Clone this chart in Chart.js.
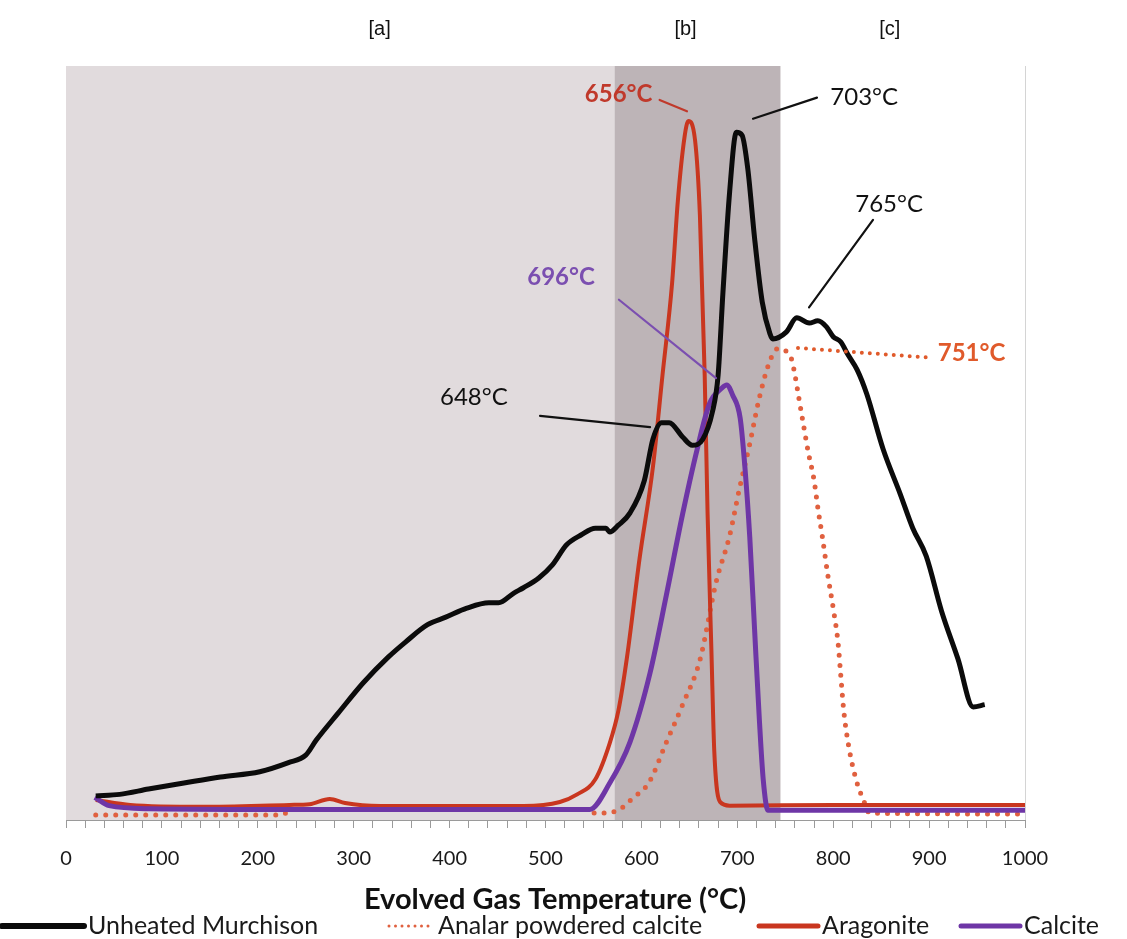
<!DOCTYPE html>
<html>
<head>
<meta charset="utf-8">
<script src="https://cdn.jsdelivr.net/npm/chart.js@4.4.0/dist/chart.umd.min.js"></script>
<style>
  html, body { margin: 0; padding: 0; background: #fff; }
  #wrap { width: 1127px; height: 939px; }
</style>
</head>
<body>
<div id="wrap"><canvas id="grafico" width="1127" height="939"></canvas></div>
<script>
/* Evolved gas (CO2) profiles vs temperature,
   signal in arbitrary units (0-100 = plot height). */

const murchisonTemp = [31, 56, 86, 123, 161, 202, 232, 250, 261, 284, 310, 336, 354, 377, 396, 418, 441, 451, 467, 477,
  493, 507, 522, 537, 552, 563, 567, 576, 588, 603, 612, 621, 629, 643, 653, 664, 674, 680, 685, 692,
  699, 705, 711, 718, 726, 734, 737, 751, 762, 775, 784, 793, 800, 808, 815, 825, 835, 852, 870, 883,
  897, 913, 930, 946, 958];
const murchisonSignal = [3.2, 3.4, 4.1, 4.9, 5.7, 6.4, 7.6, 8.6, 10.6, 14.2, 18.2, 21.6, 23.6, 25.9, 26.9, 28.1, 28.8, 28.8, 30.1, 30.8,
  32.1, 33.8, 36.5, 37.8, 38.7, 38.7, 38.2, 39.1, 40.7, 45.0, 50.5, 52.7, 52.7, 50.8, 49.7, 50.5, 54.1, 59.0, 69.9, 83.3,
  91.2, 90.8, 86.3, 77.2, 68.7, 64.5, 63.8, 64.7, 66.6, 65.9, 66.2, 65.4, 64.1, 63.4, 61.8, 59.7, 56.5, 49.2, 43.2, 38.7,
  35.0, 27.7, 21.4, 15.0, 15.3];

const analarTemp = [31, 222, 240, 540, 553, 574, 591, 608, 626, 643, 661, 678, 692, 702, 713, 723, 734, 742, 756, 761,
  764, 769, 774, 780, 784, 789, 794, 800, 805, 808, 811, 816, 824, 832, 838, 1000];
const analarSignal = [0.65, 0.65, 1.4, 1.4, 0.9, 1.2, 2.9, 5.0, 10.3, 15.3, 21.2, 31.6, 37.7, 43.8, 49.9, 56.0, 60.9, 62.5, 61.3, 58.4,
  56.1, 52.4, 48.8, 45.1, 41.4, 37.3, 32.8, 28.1, 23.6, 19.0, 14.5, 9.9, 5.3, 2.5, 0.9, 0.8];

const aragoniteTemp = [31, 67, 142, 233, 254, 275, 291, 328, 477, 515, 533, 552, 567, 576, 585, 598, 612, 622, 632, 638,
  645, 649, 656, 661, 666, 669, 673, 676, 682, 692, 800, 1000];
const aragoniteSignal = [2.65, 2.0, 1.75, 2.0, 2.1, 2.8, 2.25, 1.86, 1.86, 2.39, 3.4, 5.4, 10.2, 14.5, 21.6, 34.6, 46.8, 59.0, 71.2, 82.1,
  90.6, 92.7, 90.1, 80.2, 59.0, 40.7, 22.5, 9.1, 2.4, 1.9, 2.0, 2.0];

const calciteTemp = [30, 45, 87, 243, 546, 567, 588, 609, 626, 643, 658, 671, 684, 689, 695, 703, 708, 713, 718, 723,
  727, 732, 1000];
const calciteSignal = [3.0, 1.9, 1.5, 1.4, 1.4, 4.9, 10.3, 19.5, 29.8, 40.6, 49.1, 55.2, 57.3, 57.7, 56.4, 53.3, 46.7, 37.5, 25.3, 13.3,
  5.4, 1.3, 1.3];

// temperature zones [a] [b] [c]
const zoneLabels = ["[a]", "[b]", "[c]"];
const zoneLabelTemp = [327, 646, 859];
const zoneStart = [0, 572];
const zoneEnd = [572, 745];
const zoneColors = ["#e1dbdd", "#bdb4b7"];

// peak annotations (data units)
const peakLabels = ["656°C", "703°C", "765°C", "751°C", "696°C", "648°C"];

const FONT = "Lato, 'Open Sans', sans-serif";
const C_BLACK = "#0b0b0b";
const C_RED = "#c9361f";
const C_DOT = "#e0603f";
const C_PURPLE = "#6e36a6";

function pares(xs, ys) { return xs.map((x, i) => ({ x: x, y: ys[i] })); }

const anotaciones = [
  { text: peakLabels[0], tx: 541, ty: 96.2, line: [619, 95.5, 647.5, 94.0], color: "#c0392b", bold: true },
  { text: peakLabels[1], tx: 797, ty: 95.8, line: [716.4, 93.0, 783.1, 95.8], color: "#111", bold: false },
  { text: peakLabels[2], tx: 823, ty: 81.6, line: [774.8, 68.0, 841.5, 79.6], color: "#111", bold: false },
  { text: peakLabels[3], tx: 909, ty: 61.9, line: [763.3, 62.6, 903, 61.3], color: "#e05a2b", bold: true, dotted: true },
  { text: peakLabels[4], tx: 481, ty: 72.0, line: [576.6, 69.0, 677.8, 58.6], color: "#7b4fb0", bold: true },
  { text: peakLabels[5], tx: 390, ty: 56.1, line: [494.3, 53.6, 609, 52.1], color: "#111", bold: false }
];

const pluginZonas = {
  id: "zonas",
  beforeDatasetsDraw(chart) {
    const { ctx, chartArea: a, scales: { x } } = chart;
    ctx.save();
    zoneStart.forEach((s, i) => {
      const x0 = x.getPixelForValue(s), x1 = x.getPixelForValue(zoneEnd[i]);
      ctx.fillStyle = zoneColors[i];
      ctx.fillRect(x0, a.top, x1 - x0, a.bottom - a.top);
    });
    ctx.strokeStyle = "#d4d4d4";
    ctx.lineWidth = 1;
    ctx.beginPath();
    ctx.moveTo(a.right + 0.5, a.top);
    ctx.lineTo(a.right + 0.5, a.bottom);
    ctx.stroke();
    ctx.restore();
  },
  afterDatasetsDraw(chart) {
    const { ctx, scales: { x, y } } = chart;
    ctx.save();
    ctx.textBaseline = "middle";
    anotaciones.forEach(an => {
      const [t0, v0, t1, v1] = an.line;
      ctx.strokeStyle = an.color;
      ctx.lineWidth = 2.2;
      ctx.lineCap = "round";
      ctx.setLineDash(an.dotted ? [0, 8] : []);
      if (an.dotted) ctx.lineWidth = 4;
      ctx.beginPath();
      ctx.moveTo(x.getPixelForValue(t0), y.getPixelForValue(v0));
      ctx.lineTo(x.getPixelForValue(t1), y.getPixelForValue(v1));
      ctx.stroke();
      ctx.setLineDash([]);
      ctx.fillStyle = an.color;
      ctx.font = (an.bold ? "bold " : "") + "24px " + FONT;
      ctx.textAlign = "left";
      ctx.fillText(an.text, x.getPixelForValue(an.tx), y.getPixelForValue(an.ty));
    });
    ctx.restore();
  },
  afterDraw(chart) {
    const { ctx, scales: { x } } = chart;
    ctx.save();
    // zone labels
    ctx.fillStyle = "#111";
    ctx.font = "20px 'Liberation Sans', Arial, sans-serif";
    ctx.textAlign = "center";
    ctx.textBaseline = "middle";
    zoneLabels.forEach((t, i) => ctx.fillText(t, x.getPixelForValue(zoneLabelTemp[i]), 29));

    // axis title
    ctx.font = "bold 29px " + FONT;
    ctx.fillText("Evolved Gas Temperature (°C)", 555, 900);

    // legend
    const yL = 926;
    ctx.textAlign = "left";
    ctx.font = "25px " + FONT;
    ctx.lineCap = "round";
    const items = [
      { label: "Unheated Murchison", x0: 2, x1: 84, color: C_BLACK, w: 6 },
      { label: "Analar powdered calcite", x0: 389, x1: 430, color: C_DOT, w: 3, dot: true },
      { label: "Aragonite", x0: 759, x1: 818, color: C_RED, w: 5 },
      { label: "Calcite", x0: 961, x1: 1020, color: C_PURPLE, w: 5 }
    ];
    items.forEach(it => {
      ctx.strokeStyle = it.color;
      ctx.lineWidth = it.w;
      ctx.setLineDash(it.dot ? [0, 6.5] : []);
      ctx.beginPath();
      ctx.moveTo(it.x0, yL);
      ctx.lineTo(it.x1, yL);
      ctx.stroke();
      ctx.setLineDash([]);
      ctx.fillStyle = "#1a1a1a";
      ctx.fillText(it.label, it.x1 + (it.dot ? 8 : 4), yL);
    });
    ctx.restore();
  }
};

const ctx = document.getElementById("grafico").getContext("2d");
new Chart(ctx, {
  type: "line",
  data: {
    datasets: [
      { label: "Unheated Murchison", data: pares(murchisonTemp, murchisonSignal), borderColor: C_BLACK,
        borderWidth: 5, cubicInterpolationMode: "monotone" },
      { label: "Calcite", data: pares(calciteTemp, calciteSignal), borderColor: C_PURPLE,
        borderWidth: 5, cubicInterpolationMode: "monotone" },
      { label: "Aragonite", data: pares(aragoniteTemp, aragoniteSignal), borderColor: C_RED,
        borderWidth: 4, cubicInterpolationMode: "monotone" },
      { label: "Analar powdered calcite", data: pares(analarTemp, analarSignal), borderColor: C_DOT,
        borderWidth: 5, borderDash: [0, 10], borderCapStyle: "round", cubicInterpolationMode: "monotone" }
    ]
  },
  options: {
    responsive: false,
    animation: false,
    layout: { padding: { left: 66, right: 102, top: 66, bottom: 0 } },
    elements: { point: { radius: 0 }, line: { borderJoinStyle: "round" } },
    plugins: { legend: { display: false }, tooltip: { enabled: false } },
    scales: {
      x: {
        type: "linear", min: 0, max: 1000,
        ticks: {
          stepSize: 20, autoSkip: false, maxRotation: 0, padding: 19, color: "#1a1a1a",
          font: { family: FONT, size: 20 },
          callback: (v) => (v % 100 === 0 ? v : "")
        },
        grid: { drawOnChartArea: false, drawTicks: true, tickLength: 8, color: "#9a9a9a" },
        border: { display: true, color: "#9a9a9a", width: 1 },
        afterFit(s) { s.height = 119; }
      },
      y: { display: false, min: 0, max: 100 }
    }
  },
  plugins: [pluginZonas]
});
</script>
</body>
</html>
